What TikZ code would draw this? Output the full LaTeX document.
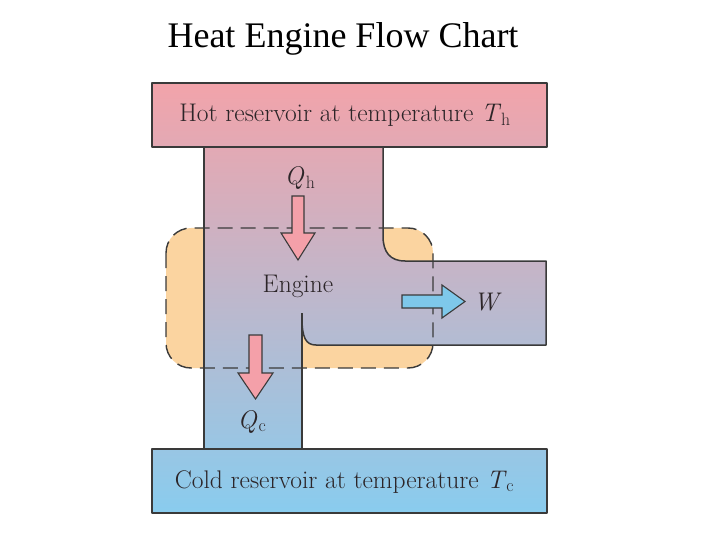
\documentclass[tikz,border=0pt]{standalone}
\usepackage{fontspec}
\newfontfamily\titlefont{Liberation Serif}
\definecolor{hotc}{HTML}{F2A3AA}
\definecolor{coldc}{HTML}{89CCEE}
\definecolor{orangec}{HTML}{FBD4A0}
\definecolor{edgec}{HTML}{3A3A3A}
\definecolor{txtc}{HTML}{2C2528}
\definecolor{pinkarrow}{HTML}{F4A0A9}
\definecolor{bluearrow}{HTML}{7EC8EA}
\newcommand{\varsym}[2]{{\itshape #1}\kern2pt\textsubscript{#2}}
\tikzset{
  edge/.style={draw=edgec, line width=1.5pt, line join=round},
  dashline/.style={draw=edgec, line width=1.4pt, dash pattern=on 15pt off 8pt},
  blockarrow/.style={draw=edgec, line width=1.1pt, line join=miter},
  lbl/.style={text=txtc, font=\fontsize{25.5}{30}\selectfont, inner sep=0pt, anchor=base},
}
\begin{document}
\begin{tikzpicture}[x=1pt, y=-1pt]
\useasboundingbox (0,0) rectangle (720,540);
% title
\node[font=\titlefont\fontsize{36}{40}\selectfont, inner sep=0pt, anchor=base] (title) at (343,48) {Heat Engine Flow Chart};
% orange engine region
\fill[orangec, rounded corners=25pt] (166,228) rectangle (433,368);
% shaded body
\begin{scope}
\clip (152,83) -- (547,83) -- (547,147) -- (383,147) -- (383,236)
  .. controls (383,252) and (390,261) .. (405,261) -- (546,261) -- (546,345) -- (316,345)
  .. controls (306,345) and (302,338) .. (302,318) -- (302,449) -- (547,449) -- (547,513)
  -- (152,513) -- (152,449) -- (204,449) -- (204,147) -- (152,147) -- cycle;
\shade[top color=hotc, bottom color=coldc] (140,83) rectangle (560,513);
\end{scope}
% dashed engine boundary
\draw[dashline, rounded corners=25pt] (166,228) rectangle (433,368);
% outlines
\draw[edge] (152,83) rectangle (547,147);
\draw[edge] (152,449) rectangle (547,513);
\draw[edge] (204,147) -- (204,449);
\draw[edge] (383,147) -- (383,236) .. controls (383,252) and (390,261) .. (405,261)
  -- (546,261) -- (546,345) -- (316,345) .. controls (306,345) and (302,338) .. (302,318);
\draw[edge] (302,313) -- (302,449);
% arrows
\draw[blockarrow, fill=pinkarrow] (292,196) -- (304,196) -- (304,233) -- (315,233) -- (298,260) -- (281,233) -- (292,233) -- cycle;
\draw[blockarrow, fill=pinkarrow] (249,335) -- (262,335) -- (262,373) -- (273,373) -- (255.5,399) -- (238,373) -- (249,373) -- cycle;
\draw[blockarrow, fill=bluearrow] (402,295) -- (442,295) -- (442,285) -- (465,301.5) -- (442,318) -- (442,308) -- (402,308) -- cycle;
% labels
\node[lbl] (hot) at (345,122) {Hot reservoir at temperature \varsym{T}{h}};
\node[lbl] (cold) at (344.5,488) {Cold reservoir at temperature \varsym{T}{c}};
\node[lbl] (engine) at (298,292) {Engine};
\node[lbl] (qh) at (300,185) {\varsym{Q}{h}};
\node[lbl] (qc) at (252,428) {\varsym{Q}{c}};
\node[lbl] (w) at (486,310) {\itshape W};
\end{tikzpicture}
\end{document}
